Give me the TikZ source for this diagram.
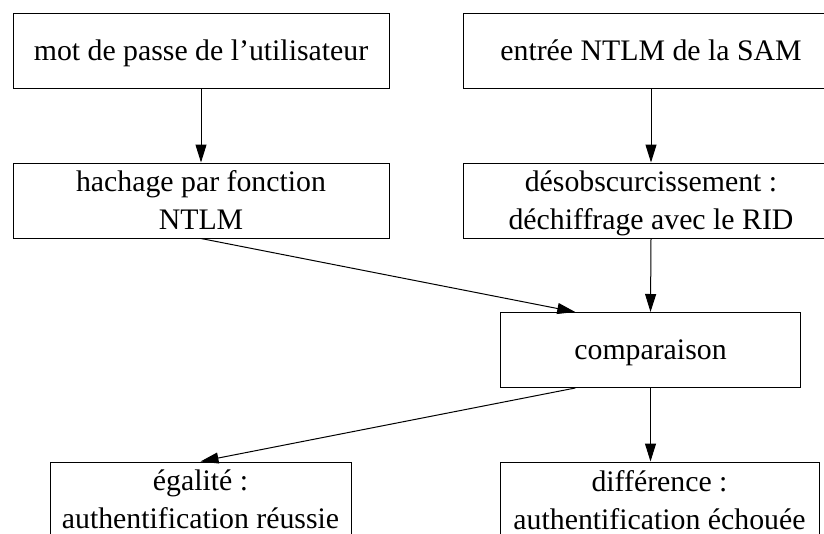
\documentclass[tikz,border=0pt]{standalone}
\usepackage{fontspec}
\setmainfont{Liberation Serif}
\usepackage{tikz}
\usetikzlibrary{arrows.meta, calc}
\tikzset{%
	stage/.style={
		rectangle,
		draw,
		line width=1pt,
		minimum height=75pt,
		inner sep=0pt,
		text depth=0pt,
		align=center,
		font=\fontsize{29.8}{38}\selectfont
	},
	flow/.style={
		line width=1pt,
		-{Triangle[length=18pt, width=11pt]}
	},
}

\begin{document}
\begin{tikzpicture}[x=1pt, y=-1pt]
			% Frame of the picture
			\clip (0,0) rectangle (824,533);
			
			% Top row: the two inputs
			\node[stage, minimum width=376pt] (pwd) at (201,50.5) {mot de passe de l’utilisateur};
			\node[stage, minimum width=376pt] (samentry) at (651,50.5) {entrée NTLM de la SAM};
			
			% Second row: processing
			\node[stage, minimum width=376pt] (hash) at (201,200.5) {hachage par fonction\\NTLM};
			\node[stage, minimum width=376pt] (deobf) at (651,200.5) {désobscurcissement :\\déchiffrage avec le RID};
			
			% Comparison and outcomes
			\node[stage, minimum width=300pt] (compare) at (650.5,350) {comparaison};
			\node[stage, minimum width=301pt] (equal) at (200.5,499.5) {égalité :\\authentification réussie};
			\node[stage, minimum width=319pt] (differ) at (659.5,499.5) {différence :\\authentification échouée};
			
			% Connectors
			\draw[flow] (pwd.south) -- (hash.north);
			\draw[flow] (samentry.south) -- (deobf.north);
			\draw[flow] (hash.south) -- ($(compare.north)!0.5!(compare.north west)$);
			\draw[flow] (deobf.south) -- (compare.north);
			\draw[flow] ($(compare.south)!0.5!(compare.south west)$) -- (equal.north);
			\draw[flow] (compare.south) -- (compare.south |- differ.north);
		\end{tikzpicture}
\end{document}
